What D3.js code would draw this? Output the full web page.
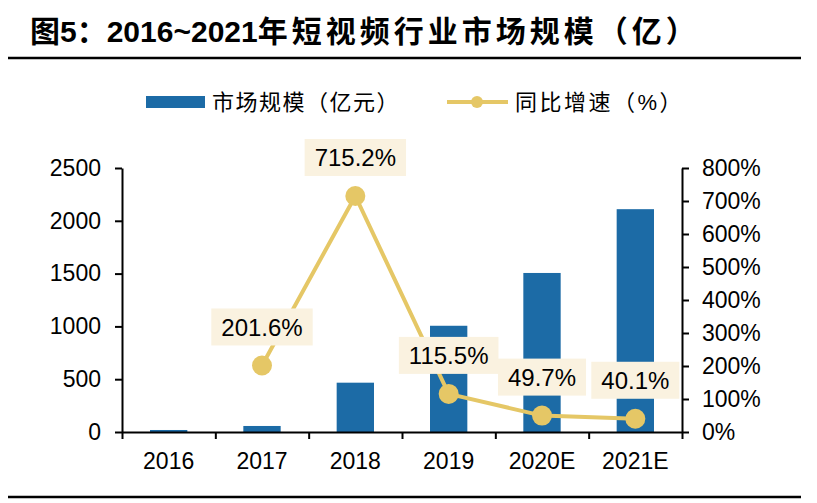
<!DOCTYPE html>
<html>
<head>
<meta charset="utf-8">
<script src="https://cdn.jsdelivr.net/npm/d3@7/dist/d3.min.js"></script>
<style>
  body { margin: 0; background: #fff; }
  text { font-family: "Liberation Sans", Arial, sans-serif; }
  .cjk { font-family: "Liberation Sans", "Noto Sans CJK SC", sans-serif; }
</style>
</head>
<body>
<div id="chart"></div>
<script>
// data
var years = ["2016", "2017", "2018", "2019", "2020E", "2021E"];
var marketSize = [19, 57, 467, 1006, 1506, 2110];      // 亿元
var growth = [null, 201.6, 715.2, 115.5, 49.7, 40.1];   // %
var growthLabels = ["", "201.6%", "715.2%", "115.5%", "49.7%", "40.1%"];
var leftTicks = [0, 500, 1000, 1500, 2000, 2500];
var rightTicks = [0, 100, 200, 300, 400, 500, 600, 700, 800];

var svgWidth = 817;
var svgHeight = 503;

var plot = { left: 122, right: 682, top: 168, bottom: 432 };

var barColor = "#1c6ba6";
var lineColor = "#e5c766";
var labelFill = "#faf2e0";

var svg = d3.select("#chart")
    .append("svg")
    .attr("width", svgWidth)
    .attr("height", svgHeight);

// title and rules
var title = svg.append("text")
    .attr("class", "cjk")
    .attr("x", 30)
    .attr("y", 42)
    .attr("font-size", "30px")
    .attr("font-weight", "bold")
    .attr("fill", "#000");
title.append("tspan").text("图5：");
title.append("tspan").text("2016~2021");
title.append("tspan").attr("letter-spacing", "4px").text("年短视频行业市场规模（亿）");

svg.append("line")
    .attr("x1", 8).attr("x2", 801)
    .attr("y1", 58).attr("y2", 58)
    .attr("stroke", "#000").attr("stroke-width", 2.5);

svg.append("line")
    .attr("x1", 8).attr("x2", 801)
    .attr("y1", 497).attr("y2", 497)
    .attr("stroke", "#000").attr("stroke-width", 2.5);

// legend
var legend = svg.append("g");
legend.append("rect")
    .attr("x", 146).attr("y", 96)
    .attr("width", 59).attr("height", 12)
    .attr("fill", barColor);
legend.append("text")
    .attr("class", "cjk")
    .attr("x", 212).attr("y", 110)
    .attr("font-size", "22px")
    .attr("letter-spacing", "1.5px")
    .text("市场规模（亿元）");
legend.append("line")
    .attr("x1", 447).attr("x2", 508)
    .attr("y1", 102).attr("y2", 102)
    .attr("stroke", lineColor).attr("stroke-width", 4);
legend.append("circle")
    .attr("cx", 477).attr("cy", 102).attr("r", 6)
    .attr("fill", lineColor);
legend.append("text")
    .attr("class", "cjk")
    .attr("x", 515).attr("y", 110)
    .attr("font-size", "22px")
    .attr("letter-spacing", "2.5px")
    .text("同比增速（%）");

// scales
var xBand = d3.scaleBand()
    .domain(years)
    .range([plot.left, plot.right])
    .paddingInner(0.6)
    .paddingOuter(0.3);

var xEdge = d3.scaleLinear()
    .domain([0, years.length])
    .range([plot.left, plot.right]);

var yLeft = d3.scaleLinear()
    .domain([0, 2500])
    .range([plot.bottom, plot.top]);

var yRight = d3.scaleLinear()
    .domain([0, 800])
    .range([plot.bottom, plot.top]);

var cx = function (d) { return xBand(d) + xBand.bandwidth() / 2; };

// bars
svg.append("g").selectAll("rect")
    .data(years)
    .enter()
    .append("rect")
    .attr("x", d => xBand(d))
    .attr("width", xBand.bandwidth())
    .attr("y", (d, i) => yLeft(marketSize[i]))
    .attr("height", (d, i) => plot.bottom - yLeft(marketSize[i]))
    .attr("fill", barColor);

// axes
var leftAxis = d3.axisLeft(yLeft)
    .tickValues(leftTicks)
    .tickSize(7)
    .tickSizeOuter(0)
    .tickPadding(14)
    .tickFormat(d3.format("d"));

var rightAxis = d3.axisRight(yRight)
    .tickValues(rightTicks)
    .tickSize(7)
    .tickSizeOuter(0)
    .tickPadding(13)
    .tickFormat(d => d + "%");

var bottomAxis = d3.axisBottom(xEdge)
    .tickValues(d3.range(years.length + 1))
    .tickSize(7)
    .tickSizeOuter(0)
    .tickFormat("");

function styleAxis(g) {
    g.selectAll("path").attr("stroke", "#000").attr("stroke-width", 2);
    g.selectAll("line").attr("stroke", "#000").attr("stroke-width", 2);
    g.selectAll("text")
        .attr("font-family", "'Liberation Sans', Arial, sans-serif")
        .attr("font-size", "23px")
        .attr("fill", "#000");
}

svg.append("g")
    .attr("transform", `translate(${plot.left},0)`)
    .call(leftAxis)
    .call(styleAxis);

svg.append("g")
    .attr("transform", `translate(${plot.right},0)`)
    .call(rightAxis)
    .call(styleAxis);

svg.append("g")
    .attr("transform", `translate(0,${plot.bottom})`)
    .call(bottomAxis)
    .call(styleAxis);

// category labels
svg.append("g").selectAll("text")
    .data(years)
    .enter()
    .append("text")
    .attr("x", d => cx(d))
    .attr("y", 469)
    .attr("text-anchor", "middle")
    .attr("font-size", "23px")
    .text(d => d);

// growth line
var pts = years.map((d, i) => ({ year: d, v: growth[i], label: growthLabels[i] }))
    .filter(p => p.v !== null);

var line = d3.line()
    .x(p => cx(p.year))
    .y(p => yRight(p.v));

svg.append("path")
    .datum(pts)
    .attr("d", line)
    .attr("fill", "none")
    .attr("stroke", lineColor)
    .attr("stroke-width", 4)
    .attr("stroke-linejoin", "round");

svg.append("g").selectAll("circle")
    .data(pts)
    .enter()
    .append("circle")
    .attr("cx", p => cx(p.year))
    .attr("cy", p => yRight(p.v))
    .attr("r", 10)
    .attr("fill", lineColor);

// data labels
var labels = svg.append("g").selectAll("g")
    .data(pts)
    .enter()
    .append("g")
    .attr("transform", p => `translate(${cx(p.year)},${yRight(p.v) - 38.5})`);

labels.append("text")
    .attr("text-anchor", "middle")
    .attr("y", 9)
    .attr("font-size", "24px")
    .attr("fill", "#000")
    .text(p => p.label);

labels.each(function () {
    var g = d3.select(this);
    var w = g.select("text").node().getComputedTextLength();
    g.insert("rect", "text")
        .attr("x", -w / 2 - 10)
        .attr("y", -18.5)
        .attr("width", w + 20)
        .attr("height", 37)
        .attr("fill", labelFill);
});
</script>
</body>
</html>
